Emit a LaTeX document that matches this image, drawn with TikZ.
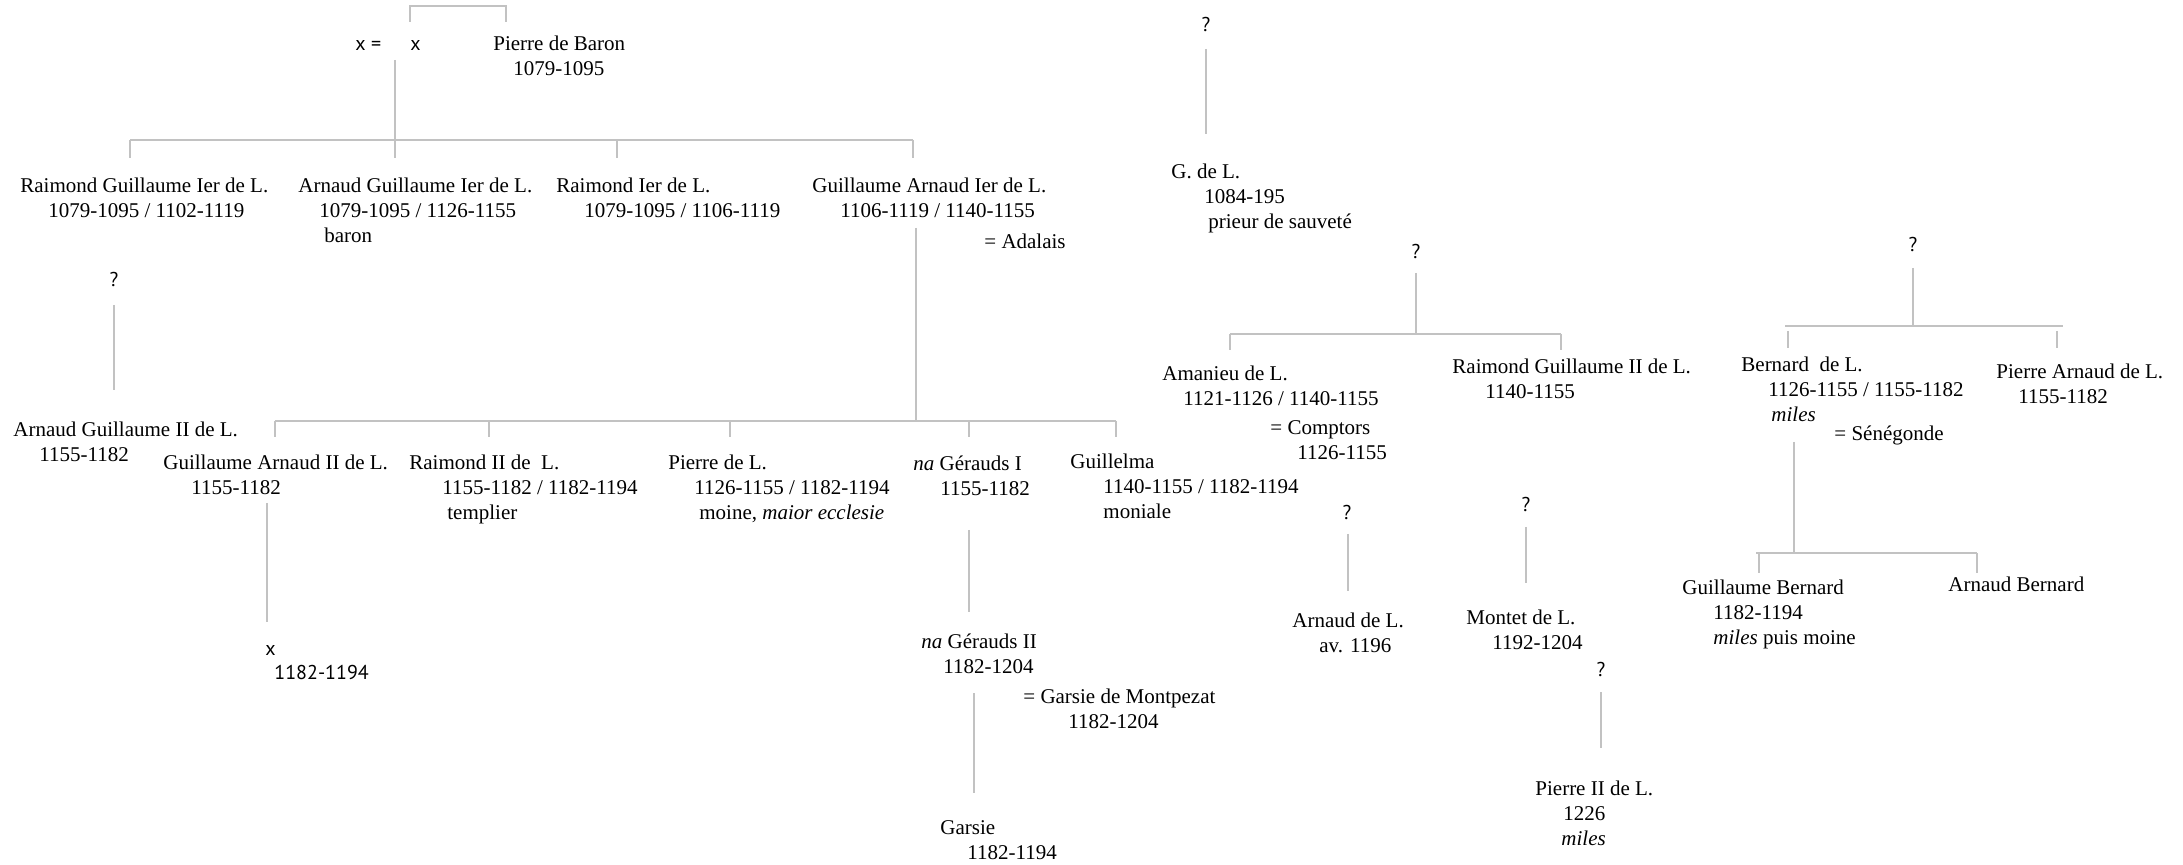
\documentclass[tikz,border=0pt]{standalone}
\usepackage{fontspec}
\setmainfont{Liberation Serif}
\setsansfont{PT Sans}
\usepackage{tikz}
\usetikzlibrary{positioning}

\begin{document}
\begin{tikzpicture}[x=0.5pt, y=-0.5pt,
  every node/.style={font=\fontsize{10.5pt}{12.5pt}\selectfont, inner sep=0pt},
  person/.style={anchor=north west, align=left},
  unknown/.style={font=\sffamily\fontsize{10pt}{12pt}\selectfont},
  link/.style={draw=black!24, line width=0.55pt}]
  \useasboundingbox (0,0) rectangle (2183,865);

  % first generation
  \node[unknown, anchor=west] (xeq) at (355,46) {x =};
  \node[unknown, anchor=west] (x1) at (410,46) {x};
  \node[person] (pb) at (493,36) {Pierre de Baron\\\hspace*{10pt}1079-1095};

  % sons of Pierre de Baron
  \node[person] (rg1) at (20,178) {Raimond Guillaume Ier de L.\\\hspace*{14pt}1079-1095 / 1102-1119};
  \node[person] (ag1) at (298,178) {Arnaud Guillaume Ier de L.\\\hspace*{10.5pt}1079-1095 / 1126-1155\\\hspace*{13pt}baron};
  \node[person] (r1) at (556,178) {Raimond Ier de L.\\\hspace*{14pt}1079-1095 / 1106-1119};
  \node[person] (ga1) at (812,178) {Guillaume Arnaud Ier de L.\\\hspace*{14pt}1106-1119 / 1140-1155};
  \node[person] (ada) at (984,234) {= Adalais};

  \node[unknown] (q1) at (114,280) {?};
  \node[person] (ag2) at (13,422) {Arnaud Guillaume II de L.\\\hspace*{13pt}1155-1182};

  % children of Guillaume Arnaud Ier
  \node[person] (ga2) at (163,455) {Guillaume Arnaud II de L.\\\hspace*{14pt}1155-1182};
  \node[person, unknown] (x2) at (265,645) {x\\\hspace*{4.5pt}1182-1194};
  \node[person] (r2) at (409,455) {Raimond II de\ \ L.\\\hspace*{16.5pt}1155-1182 / 1182-1194\\\hspace*{19pt}templier};
  \node[person] (pl) at (668,455) {Pierre de L.\\\hspace*{13pt}1126-1155 / 1182-1194\\\hspace*{15.5pt}moine, \textit{maior ecclesie}};
  \node[person] (ng1) at (913,455) {\textit{na} Gérauds I\\\hspace*{13.5pt}1155-1182};
  \node[person] (gu) at (1070,454) {Guillelma\\\hspace*{16.5pt}1140-1155 / 1182-1194\\\hspace*{16.5pt}moniale};
  \node[person] (ng2) at (921,633) {\textit{na} Gérauds II\\\hspace*{11pt}1182-1204};
  \node[person] (gm) at (1023,689) {= Garsie de Montpezat\\\hspace*{22.5pt}1182-1204};
  \node[person] (gar) at (940,820) {Garsie\\\hspace*{13.5pt}1182-1194};

  % right-hand branches
  \node[unknown] (q2) at (1206,25) {?};
  \node[person] (gdl) at (1171,164) {G. de L.\\\hspace*{16.5pt}1084-195\\\hspace*{18.5pt}prieur de sauveté};
  \node[unknown] (q3) at (1416,252) {?};
  \node[person] (am) at (1162,366) {Amanieu de L.\\\hspace*{10.5pt}1121-1126 / 1140-1155};
  \node[person] (co) at (1270,420) {= Comptors\\\hspace*{13.5pt}1126-1155};
  \node[person] (rg2) at (1452,359) {Raimond Guillaume II de L.\\\hspace*{16.5pt}1140-1155};
  \node[unknown] (q4) at (1913,245) {?};
  \node[person] (be) at (1741,357) {Bernard\ \ de L.\\\hspace*{13.5pt}1126-1155 / 1155-1182\\\hspace*{15pt}\textit{miles}};
  \node[person] (se) at (1834,425) {= Sénégonde};
  \node[person] (pa) at (1996,364) {Pierre Arnaud de L.\\\hspace*{11pt}1155-1182};
  \node[person] (gb) at (1682,580) {Guillaume Bernard\\\hspace*{15.5pt}1182-1194\\\hspace*{15.5pt}\textit{miles} puis moine};
  \node[person] (ab) at (1948,577) {Arnaud Bernard};
  \node[unknown] (q5) at (1347,512) {?};
  \node[person] (ad) at (1292,613) {Arnaud de L.\\\hspace*{13.5pt}av. 1196};
  \node[unknown] (q6) at (1526,504) {?};
  \node[person] (mo) at (1466,610) {Montet de L.\\\hspace*{13pt}1192-1204};
  \node[unknown] (q7) at (1601,669) {?};
  \node[person] (p2) at (1535,781) {Pierre II de L.\\\hspace*{14pt}1226\\\hspace*{13pt}\textit{miles}};

  % connector points
  \foreach \n/\x/\y in {br1/410/22, br2/410/6, br3/506/6, br4/506/22,
      pA/395/60, jA/395/140, wA/130/140, eA/913/140,
      t-rg1/130/140, t-ag1/395/140, t-r1/617/140, t-ga1/913/140,
      pB/916/228, jB/916/421, wB/275/421, eB/1116/421,
      t-ga2/275/421, t-r2/489/421, t-pl/730/421, t-ng1/969/421, t-gu/1116/421,
      pC/1416/273, jC/1416/334, wC/1230/334, eC/1561/334,
      t-am/1230/334, t-rg2/1561/334,
      pD/1913/268, jD/1913/326, wD/1785/326, eD/2063/326,
      t-be/1788/331, t-pa/2057/331,
      pE/1794/442, jE/1794/553, wE/1756/553, eE/1977/553,
      t-gb/1759/553, t-ab/1977/553,
      q1-d/114/305, ag2-u/114/390, ga2-d/267/503, x2-u/267/622,
      ng1-d/969/530, ng2-u/969/612, ng2-d/974/693, gar-u/974/793,
      q2-d/1206/49, gdl-u/1206/134, q5-d/1348/534, ad-u/1348/591,
      q6-d/1526/527, mo-u/1526/583, q7-d/1601/692, p2-u/1601/748}
    \coordinate (\n) at (\x,\y);

  \draw[link] (br1) -- (br2) -- (br3) -- (br4);
  \draw[link] (pA) -- (jA) (wA) -- (eA);
  \foreach \c in {rg1,ag1,r1,ga1} \draw[link] (t-\c) -- ++(0,18);
  \draw[link] (pB) -- (jB) (wB) -- (eB);
  \foreach \c in {ga2,r2,pl,ng1,gu} \draw[link] (t-\c) -- ++(0,16);
  \draw[link] (pC) -- (jC) (wC) -- (eC);
  \foreach \c in {am,rg2} \draw[link] (t-\c) -- ++(0,16);
  \draw[link] (pD) -- (jD) (wD) -- (eD);
  \foreach \c in {be,pa} \draw[link] (t-\c) -- ++(0,17);
  \draw[link] (pE) -- (jE) (wE) -- (eE);
  \foreach \c in {gb,ab} \draw[link] (t-\c) -- ++(0,20);

  \foreach \a/\b in {q1-d/ag2-u, ga2-d/x2-u, ng1-d/ng2-u, ng2-d/gar-u,
      q2-d/gdl-u, q5-d/ad-u, q6-d/mo-u, q7-d/p2-u}
    \draw[link] (\a) -- (\b);
\end{tikzpicture}
\end{document}
